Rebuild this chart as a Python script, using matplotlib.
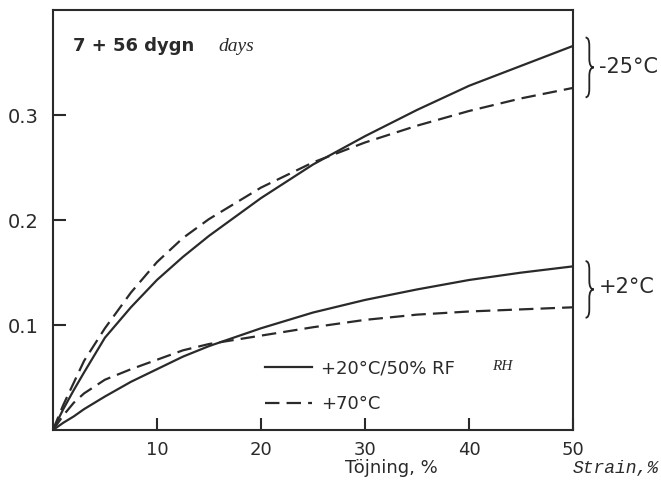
import numpy as np
import matplotlib
matplotlib.use('Agg')
import matplotlib.pyplot as plt
from matplotlib.path import Path
from matplotlib.patches import PathPatch

# === Data ===
strain = [0, 1, 2, 3, 5, 7.5, 10, 12.5, 15, 20, 25, 30, 35, 40, 45, 50]

# -25 °C group
minus25_rf = [0, 0.020, 0.038, 0.055, 0.088, 0.117, 0.143, 0.165, 0.185, 0.221,
              0.253, 0.280, 0.305, 0.328, 0.347, 0.366]
minus25_70 = [0, 0.024, 0.045, 0.066, 0.097, 0.131, 0.160, 0.183, 0.201, 0.231,
              0.255, 0.274, 0.290, 0.304, 0.316, 0.326]

# +2 °C group
plus2_rf = [0, 0.007, 0.013, 0.020, 0.032, 0.046, 0.058, 0.070, 0.080, 0.097,
            0.112, 0.124, 0.134, 0.143, 0.150, 0.156]
plus2_70 = [0, 0.014, 0.026, 0.035, 0.048, 0.058, 0.067, 0.076, 0.082, 0.090,
            0.098, 0.105, 0.110, 0.113, 0.115, 0.117]

xticks = [10, 20, 30, 40, 50]
yticks = [0.1, 0.2, 0.3]
ytick_labels = ['0.1', '0.2', '0.3']

group_labels = ['-25°C', '+2°C']


def brace(ax, x0, y_top, y_bot, width, d):
    # right curly brace "}" drawn as a path
    xm = x0 + width * 0.45
    x1 = x0 + width
    ym = (y_top + y_bot) / 2
    verts = [(x0, y_top), (xm, y_top), (xm, y_top - d),
             (xm, ym + d),
             (xm, ym), (x1, ym),
             (xm, ym), (xm, ym - d),
             (xm, y_bot + d),
             (xm, y_bot), (x0, y_bot)]
    codes = [Path.MOVETO, Path.CURVE3, Path.CURVE3,
             Path.LINETO,
             Path.CURVE3, Path.CURVE3,
             Path.CURVE3, Path.CURVE3,
             Path.LINETO,
             Path.CURVE3, Path.CURVE3]
    patch = PathPatch(Path(verts, codes), fill=False, lw=1.3, color='#222222', clip_on=False)
    ax.add_patch(patch)


# === Plotting ===
fig = plt.figure(figsize=(6.61, 4.86), dpi=100)
ax = fig.add_axes([0.080, 0.115, 0.787, 0.864])

ink = '#2a2a2a'
dash = (6.5, 3.2)

ax.plot(strain, minus25_rf, color=ink, lw=1.6, label='+20°C/50% RF')
ax.plot(strain, minus25_70, color=ink, lw=1.6, dashes=dash, label='+70°C')
ax.plot(strain, plus2_rf, color=ink, lw=1.6)
ax.plot(strain, plus2_70, color=ink, lw=1.6, dashes=dash)

ax.set_xlim(0, 50)
ax.set_ylim(0, 0.4)

ax.set_xticks(xticks)
ax.set_yticks(yticks)
ax.set_yticklabels(ytick_labels)
ax.tick_params(direction='in', length=9, width=1.5, labelsize=13, colors=ink)
ax.tick_params(axis='x', pad=8)
ax.tick_params(axis='y', pad=10, labelsize=14)
for s in ax.spines.values():
    s.set_linewidth(1.5)
    s.set_color(ink)

# legend
leg = ax.legend(loc='upper left', bbox_to_anchor=(0.39, 0.19), frameon=False,
                fontsize=13, handlelength=2.6, handletextpad=0.5, labelspacing=1.0,
                borderpad=0)
for t in leg.get_texts():
    t.set_color(ink)
ax.text(0.845, 0.152, 'RH', transform=ax.transAxes, fontsize=11, style='italic',
        family='Liberation Serif', color=ink, va='center')

# title text
ax.text(0.038, 0.915, '7 + 56 dygn', transform=ax.transAxes, fontsize=13,
        fontweight='bold', color=ink, va='center')
ax.text(0.318, 0.913, 'days', transform=ax.transAxes, fontsize=14, style='italic',
        family='Liberation Serif', color=ink, va='center')

# x label
fig.text(0.522, 0.038, 'Töjning, %', fontsize=13, color=ink, va='center')
fig.text(0.866, 0.036, 'Strain,%', fontsize=13, style='italic',
         family='Liberation Mono', color=ink, va='center')

# braces for groups
brace(ax, 51.2, max(minus25_rf[-1], minus25_70[-1]) + 0.008,
      min(minus25_rf[-1], minus25_70[-1]) - 0.009, 0.8, 0.008)
brace(ax, 51.2, max(plus2_rf[-1], plus2_70[-1]) + 0.005,
      min(plus2_rf[-1], plus2_70[-1]) - 0.010, 0.8, 0.008)
ax.text(52.5, (minus25_rf[-1] + minus25_70[-1]) / 2, group_labels[0], fontsize=15,
        color=ink, va='center', clip_on=False)
ax.text(52.5, (plus2_rf[-1] + plus2_70[-1]) / 2, group_labels[1], fontsize=15,
        color=ink, va='center', clip_on=False)

plt.savefig('out.png', dpi=100)
